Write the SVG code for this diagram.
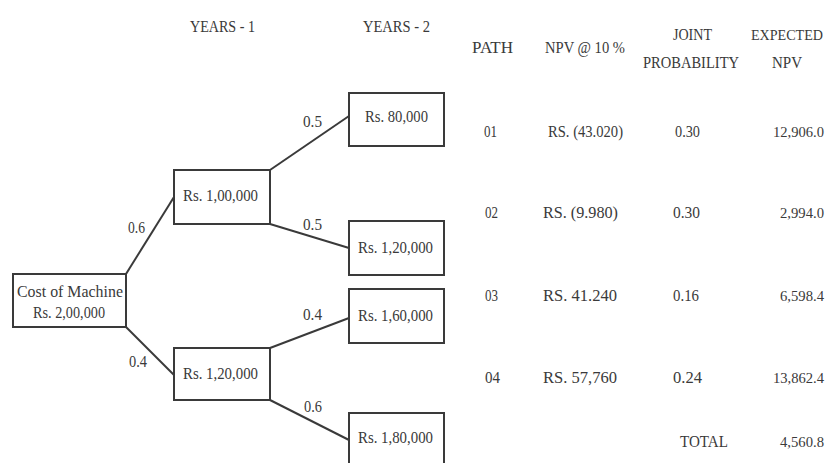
<svg xmlns="http://www.w3.org/2000/svg" width="830" height="463" viewBox="0 0 830 463">
<style>
text{font-family:"Liberation Serif","Times New Roman",serif;font-size:17.5px;fill:#3a3a3a}
.r{text-anchor:end;font-size:15.5px}
.box{fill:#fff;stroke:#3a3a3a;stroke-width:2}
.ln{stroke:#3a3a3a;stroke-width:2;fill:none}
</style>
<rect width="830" height="463" fill="#fff"/>
<g id="headers">
<text x="190" y="32" textLength="65" lengthAdjust="spacingAndGlyphs">YEARS - 1</text>
<text x="363" y="32" textLength="67" lengthAdjust="spacingAndGlyphs">YEARS - 2</text>
</g>
<g id="connectors">
<line class="ln" x1="126" y1="274" x2="174" y2="197"/>
<line class="ln" x1="126" y1="327" x2="174" y2="375"/>
<line class="ln" x1="270" y1="170" x2="349" y2="116"/>
<line class="ln" x1="270" y1="224" x2="349" y2="248"/>
<line class="ln" x1="270" y1="348" x2="349" y2="318"/>
<line class="ln" x1="270" y1="400" x2="349" y2="440"/>
<text x="128" y="233" textLength="17" lengthAdjust="spacingAndGlyphs">0.6</text>
<text x="129" y="367" textLength="18" lengthAdjust="spacingAndGlyphs">0.4</text>
<text x="303" y="127" textLength="19" lengthAdjust="spacingAndGlyphs">0.5</text>
<text x="303" y="230" textLength="19" lengthAdjust="spacingAndGlyphs">0.5</text>
<text x="303" y="320" textLength="19" lengthAdjust="spacingAndGlyphs">0.4</text>
<text x="304" y="412" textLength="18" lengthAdjust="spacingAndGlyphs">0.6</text>
</g>
<g id="node-cost">
<rect class="box" x="13" y="274" width="113" height="53"/>
<text x="17" y="297" textLength="106" lengthAdjust="spacingAndGlyphs">Cost of Machine</text>
<text x="33" y="318" textLength="72" lengthAdjust="spacingAndGlyphs">Rs. 2,00,000</text>
</g>
<g id="node-y1a">
<rect class="box" x="174" y="170" width="96" height="54"/>
<text x="183" y="201" textLength="75" lengthAdjust="spacingAndGlyphs">Rs. 1,00,000</text>
</g>
<g id="node-y1b">
<rect class="box" x="174" y="348" width="96" height="52"/>
<text x="183" y="379" textLength="75" lengthAdjust="spacingAndGlyphs">Rs. 1,20,000</text>
</g>
<g id="node-y2a">
<rect class="box" x="349" y="93" width="95" height="53"/>
<text x="365" y="122" textLength="63" lengthAdjust="spacingAndGlyphs">Rs. 80,000</text>
</g>
<g id="node-y2b">
<rect class="box" x="349" y="221" width="95" height="54"/>
<text x="358" y="253" textLength="75" lengthAdjust="spacingAndGlyphs">Rs. 1,20,000</text>
</g>
<g id="node-y2c">
<rect class="box" x="349" y="289" width="95" height="54"/>
<text x="358" y="321" textLength="75" lengthAdjust="spacingAndGlyphs">Rs. 1,60,000</text>
</g>
<g id="node-y2d">
<rect class="box" x="349" y="413" width="95" height="54"/>
<text x="358" y="443" textLength="75" lengthAdjust="spacingAndGlyphs">Rs. 1,80,000</text>
</g>
<g id="table">
<text x="472" y="53" textLength="41" lengthAdjust="spacingAndGlyphs">PATH</text>
<text x="545" y="53" textLength="80" lengthAdjust="spacingAndGlyphs">NPV @ 10 %</text>
<text x="673" y="40" textLength="39" lengthAdjust="spacingAndGlyphs">JOINT</text>
<text x="643" y="68" textLength="96" lengthAdjust="spacingAndGlyphs">PROBABILITY</text>
<text class="r" x="823" y="40" style="font-size:14.5px" textLength="72" lengthAdjust="spacingAndGlyphs">EXPECTED</text>
<text x="772" y="68" textLength="30" lengthAdjust="spacingAndGlyphs">NPV</text>

<text x="484" y="137" textLength="13" lengthAdjust="spacingAndGlyphs">01</text>
<text x="548" y="137" textLength="75" lengthAdjust="spacingAndGlyphs">RS. (43.020)</text>
<text x="675" y="137" textLength="25" lengthAdjust="spacingAndGlyphs">0.30</text>
<text class="r" x="824" y="137" textLength="51" lengthAdjust="spacingAndGlyphs">12,906.0</text>

<text x="485" y="218" textLength="13" lengthAdjust="spacingAndGlyphs">02</text>
<text x="543" y="218" textLength="75" lengthAdjust="spacingAndGlyphs">RS. (9.980)</text>
<text x="673" y="218" textLength="27" lengthAdjust="spacingAndGlyphs">0.30</text>
<text class="r" x="824" y="218" textLength="44" lengthAdjust="spacingAndGlyphs">2,994.0</text>

<text x="485" y="301" textLength="13" lengthAdjust="spacingAndGlyphs">03</text>
<text x="543" y="301" textLength="74" lengthAdjust="spacingAndGlyphs">RS. 41.240</text>
<text x="673" y="301" textLength="26" lengthAdjust="spacingAndGlyphs">0.16</text>
<text class="r" x="824" y="301" textLength="44" lengthAdjust="spacingAndGlyphs">6,598.4</text>

<text x="485" y="383" textLength="15" lengthAdjust="spacingAndGlyphs">04</text>
<text x="543" y="383" textLength="74" lengthAdjust="spacingAndGlyphs">RS. 57,760</text>
<text x="673" y="383" textLength="29" lengthAdjust="spacingAndGlyphs">0.24</text>
<text class="r" x="824" y="383" textLength="51" lengthAdjust="spacingAndGlyphs">13,862.4</text>

<text x="680" y="447" textLength="48" lengthAdjust="spacingAndGlyphs">TOTAL</text>
<text class="r" x="824" y="447" textLength="44" lengthAdjust="spacingAndGlyphs">4,560.8</text>
</g>
</svg>
